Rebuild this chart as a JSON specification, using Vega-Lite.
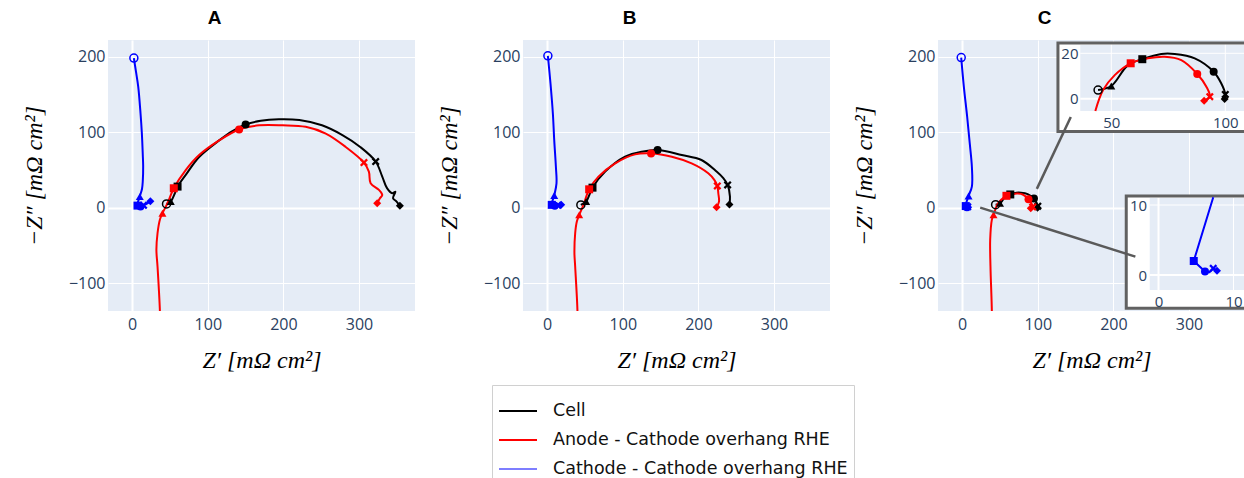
{
  "$schema": "https://vega.github.io/schema/vega-lite/v6.json",
  "padding": {"left": 22, "top": 9, "right": 0, "bottom": 0},
  "background": "white",
  "config": {
    "view": {"fill": "#e5ecf6", "stroke": null},
    "axis": {"domain": false, "ticks": false, "gridColor": "white", "labelFont": "Open Sans", "labelFontSize": 16, "labelColor": "#2a3f5f", "labelFlush": false, "labelOverlap": false, "titleFont": "Liberation Serif", "titleFontStyle": "italic", "titleFontWeight": "normal", "titleFontSize": 24, "titleColor": "#000000"},
    "title": {"font": "Liberation Sans", "fontSize": 19, "fontWeight": "bold", "color": "#000000", "anchor": "middle", "offset": 12},
    "legend": {"orient": "none", "legendX": 384, "legendY": 345, "direction": "vertical", "title": null, "labelFont": "DejaVu Sans", "labelFontSize": 17.5, "labelColor": "#111111", "labelLimit": 500, "symbolType": "stroke", "symbolStrokeWidth": 2, "symbolSize": 1444, "strokeColor": "#d0d0d0", "fillColor": "white", "padding": 6, "labelOffset": 15, "rowPadding": 0}
  },
  "datasets": {
    "main": [
      {"p":"A","s":"Cell","i":0,"x":45.4,"y":4.8,"m":"open"},
      {"p":"A","s":"Cell","i":1,"x":51,"y":8,"m":"tri"},
      {"p":"A","s":"Cell","i":2,"x":56,"y":18},
      {"p":"A","s":"Cell","i":3,"x":60,"y":27.8,"m":"sq"},
      {"p":"A","s":"Cell","i":4,"x":72,"y":45},
      {"p":"A","s":"Cell","i":5,"x":88.5,"y":67},
      {"p":"A","s":"Cell","i":6,"x":115,"y":89},
      {"p":"A","s":"Cell","i":7,"x":132,"y":101},
      {"p":"A","s":"Cell","i":8,"x":150,"y":110,"m":"circ"},
      {"p":"A","s":"Cell","i":9,"x":170,"y":115},
      {"p":"A","s":"Cell","i":10,"x":194,"y":117},
      {"p":"A","s":"Cell","i":11,"x":221,"y":116},
      {"p":"A","s":"Cell","i":12,"x":251,"y":109},
      {"p":"A","s":"Cell","i":13,"x":278,"y":96},
      {"p":"A","s":"Cell","i":14,"x":302,"y":80},
      {"p":"A","s":"Cell","i":15,"x":322,"y":61,"m":"x"},
      {"p":"A","s":"Cell","i":16,"x":330.7,"y":41},
      {"p":"A","s":"Cell","i":17,"x":337,"y":25.7},
      {"p":"A","s":"Cell","i":18,"x":343.9,"y":19},
      {"p":"A","s":"Cell","i":19,"x":348,"y":21},
      {"p":"A","s":"Cell","i":20,"x":345,"y":12.5},
      {"p":"A","s":"Cell","i":21,"x":349.7,"y":8},
      {"p":"A","s":"Cell","i":22,"x":354,"y":2.3,"m":"dia"},
      {"p":"A","s":"Anode - Cathode overhang RHE","i":0,"x":37,"y":-160},
      {"p":"A","s":"Anode - Cathode overhang RHE","i":1,"x":36.6,"y":-136},
      {"p":"A","s":"Anode - Cathode overhang RHE","i":2,"x":33.5,"y":-78},
      {"p":"A","s":"Anode - Cathode overhang RHE","i":3,"x":32,"y":-56},
      {"p":"A","s":"Anode - Cathode overhang RHE","i":4,"x":33.5,"y":-34},
      {"p":"A","s":"Anode - Cathode overhang RHE","i":5,"x":36.6,"y":-16},
      {"p":"A","s":"Anode - Cathode overhang RHE","i":6,"x":40,"y":-7.5,"m":"tri"},
      {"p":"A","s":"Anode - Cathode overhang RHE","i":7,"x":46.7,"y":5.7},
      {"p":"A","s":"Anode - Cathode overhang RHE","i":8,"x":55,"y":25.6,"m":"sq"},
      {"p":"A","s":"Anode - Cathode overhang RHE","i":9,"x":71,"y":50},
      {"p":"A","s":"Anode - Cathode overhang RHE","i":10,"x":88.5,"y":69.6},
      {"p":"A","s":"Anode - Cathode overhang RHE","i":11,"x":115,"y":89},
      {"p":"A","s":"Anode - Cathode overhang RHE","i":12,"x":141.4,"y":103.5,"m":"circ"},
      {"p":"A","s":"Anode - Cathode overhang RHE","i":13,"x":168,"y":109},
      {"p":"A","s":"Anode - Cathode overhang RHE","i":14,"x":199,"y":109},
      {"p":"A","s":"Anode - Cathode overhang RHE","i":15,"x":229.5,"y":107},
      {"p":"A","s":"Anode - Cathode overhang RHE","i":16,"x":256,"y":98},
      {"p":"A","s":"Anode - Cathode overhang RHE","i":17,"x":282,"y":80.6},
      {"p":"A","s":"Anode - Cathode overhang RHE","i":18,"x":306.5,"y":59.6,"m":"x"},
      {"p":"A","s":"Anode - Cathode overhang RHE","i":19,"x":313,"y":47.7},
      {"p":"A","s":"Anode - Cathode overhang RHE","i":20,"x":315.3,"y":32.3},
      {"p":"A","s":"Anode - Cathode overhang RHE","i":21,"x":326.3,"y":23.4},
      {"p":"A","s":"Anode - Cathode overhang RHE","i":22,"x":330.7,"y":16.8},
      {"p":"A","s":"Anode - Cathode overhang RHE","i":23,"x":327.6,"y":12.4},
      {"p":"A","s":"Anode - Cathode overhang RHE","i":24,"x":324,"y":5.8,"m":"dia"},
      {"p":"A","s":"Cathode - Cathode overhang RHE","i":0,"x":2.2,"y":198,"m":"open"},
      {"p":"A","s":"Cathode - Cathode overhang RHE","i":1,"x":5,"y":180},
      {"p":"A","s":"Cathode - Cathode overhang RHE","i":2,"x":8,"y":160},
      {"p":"A","s":"Cathode - Cathode overhang RHE","i":3,"x":11,"y":125},
      {"p":"A","s":"Cathode - Cathode overhang RHE","i":4,"x":12.8,"y":98},
      {"p":"A","s":"Cathode - Cathode overhang RHE","i":5,"x":14,"y":70},
      {"p":"A","s":"Cathode - Cathode overhang RHE","i":6,"x":14.5,"y":55},
      {"p":"A","s":"Cathode - Cathode overhang RHE","i":7,"x":14,"y":35},
      {"p":"A","s":"Cathode - Cathode overhang RHE","i":8,"x":13,"y":25},
      {"p":"A","s":"Cathode - Cathode overhang RHE","i":9,"x":10,"y":14.5,"m":"tri"},
      {"p":"A","s":"Cathode - Cathode overhang RHE","i":10,"x":7,"y":2.6,"m":"sq"},
      {"p":"A","s":"Cathode - Cathode overhang RHE","i":11,"x":11,"y":1.5,"m":"circ"},
      {"p":"A","s":"Cathode - Cathode overhang RHE","i":12,"x":15,"y":3,"m":"x"},
      {"p":"A","s":"Cathode - Cathode overhang RHE","i":13,"x":19,"y":5},
      {"p":"A","s":"Cathode - Cathode overhang RHE","i":14,"x":24,"y":8.5,"m":"dia"},
      {"p":"B","s":"Cell","i":0,"x":44.5,"y":3.5,"m":"open"},
      {"p":"B","s":"Cell","i":1,"x":51.5,"y":8,"m":"tri"},
      {"p":"B","s":"Cell","i":2,"x":55,"y":15},
      {"p":"B","s":"Cell","i":3,"x":59.9,"y":26.4,"m":"sq"},
      {"p":"B","s":"Cell","i":4,"x":76.7,"y":47.6},
      {"p":"B","s":"Cell","i":5,"x":103,"y":67.4},
      {"p":"B","s":"Cell","i":6,"x":125,"y":74},
      {"p":"B","s":"Cell","i":7,"x":146,"y":76.2,"m":"circ"},
      {"p":"B","s":"Cell","i":8,"x":178,"y":69.6},
      {"p":"B","s":"Cell","i":9,"x":204,"y":63},
      {"p":"B","s":"Cell","i":10,"x":224,"y":47.7},
      {"p":"B","s":"Cell","i":11,"x":232.9,"y":39},
      {"p":"B","s":"Cell","i":12,"x":238.6,"y":30,"m":"x"},
      {"p":"B","s":"Cell","i":13,"x":241.7,"y":14.6},
      {"p":"B","s":"Cell","i":14,"x":241,"y":4,"m":"dia"},
      {"p":"B","s":"Anode - Cathode overhang RHE","i":0,"x":40,"y":-160},
      {"p":"B","s":"Anode - Cathode overhang RHE","i":1,"x":40,"y":-136.6},
      {"p":"B","s":"Anode - Cathode overhang RHE","i":2,"x":37,"y":-78},
      {"p":"B","s":"Anode - Cathode overhang RHE","i":3,"x":36,"y":-60},
      {"p":"B","s":"Anode - Cathode overhang RHE","i":4,"x":37,"y":-34},
      {"p":"B","s":"Anode - Cathode overhang RHE","i":5,"x":39.2,"y":-18.5},
      {"p":"B","s":"Anode - Cathode overhang RHE","i":6,"x":42.3,"y":-9.7,"m":"tri"},
      {"p":"B","s":"Anode - Cathode overhang RHE","i":7,"x":48,"y":3.5},
      {"p":"B","s":"Anode - Cathode overhang RHE","i":8,"x":55.5,"y":24.2,"m":"sq"},
      {"p":"B","s":"Anode - Cathode overhang RHE","i":9,"x":67.8,"y":41},
      {"p":"B","s":"Anode - Cathode overhang RHE","i":10,"x":90,"y":58.6},
      {"p":"B","s":"Anode - Cathode overhang RHE","i":11,"x":116.3,"y":70.5},
      {"p":"B","s":"Anode - Cathode overhang RHE","i":12,"x":137.4,"y":71.8,"m":"circ"},
      {"p":"B","s":"Anode - Cathode overhang RHE","i":13,"x":164.8,"y":67.4},
      {"p":"B","s":"Anode - Cathode overhang RHE","i":14,"x":191,"y":58.6},
      {"p":"B","s":"Anode - Cathode overhang RHE","i":15,"x":213,"y":45.5},
      {"p":"B","s":"Anode - Cathode overhang RHE","i":16,"x":221,"y":36.7},
      {"p":"B","s":"Anode - Cathode overhang RHE","i":17,"x":225,"y":28.7,"m":"x"},
      {"p":"B","s":"Anode - Cathode overhang RHE","i":18,"x":226.3,"y":19},
      {"p":"B","s":"Anode - Cathode overhang RHE","i":19,"x":227.2,"y":8},
      {"p":"B","s":"Anode - Cathode overhang RHE","i":20,"x":224,"y":0.5,"m":"dia"},
      {"p":"B","s":"Cathode - Cathode overhang RHE","i":0,"x":0.9,"y":201,"m":"open"},
      {"p":"B","s":"Cathode - Cathode overhang RHE","i":1,"x":4.4,"y":164},
      {"p":"B","s":"Cathode - Cathode overhang RHE","i":2,"x":7.5,"y":124.7},
      {"p":"B","s":"Cathode - Cathode overhang RHE","i":3,"x":9.3,"y":89.4},
      {"p":"B","s":"Cathode - Cathode overhang RHE","i":4,"x":11.5,"y":54},
      {"p":"B","s":"Cathode - Cathode overhang RHE","i":5,"x":12.3,"y":32},
      {"p":"B","s":"Cathode - Cathode overhang RHE","i":6,"x":9.3,"y":16,"m":"tri"},
      {"p":"B","s":"Cathode - Cathode overhang RHE","i":7,"x":6,"y":3.6,"m":"sq"},
      {"p":"B","s":"Cathode - Cathode overhang RHE","i":8,"x":10,"y":2.5,"m":"circ"},
      {"p":"B","s":"Cathode - Cathode overhang RHE","i":9,"x":14,"y":3,"m":"x"},
      {"p":"B","s":"Cathode - Cathode overhang RHE","i":10,"x":18.5,"y":3.6,"m":"dia"},
      {"p":"C","s":"Cell","i":0,"x":44.2,"y":3.8,"m":"open"},
      {"p":"C","s":"Cell","i":1,"x":50,"y":5.6,"m":"tri"},
      {"p":"C","s":"Cell","i":2,"x":57.3,"y":14.8},
      {"p":"C","s":"Cell","i":3,"x":63.6,"y":17.4,"m":"sq"},
      {"p":"C","s":"Cell","i":4,"x":71.9,"y":19.7},
      {"p":"C","s":"Cell","i":5,"x":77.8,"y":19.7},
      {"p":"C","s":"Cell","i":6,"x":86.6,"y":17.8},
      {"p":"C","s":"Cell","i":7,"x":94.9,"y":11.9,"m":"circ"},
      {"p":"C","s":"Cell","i":8,"x":98.2,"y":6.8},
      {"p":"C","s":"Cell","i":9,"x":100,"y":1.9,"m":"x"},
      {"p":"C","s":"Cell","i":10,"x":99.7,"y":-0.1,"m":"dia"},
      {"p":"C","s":"Anode - Cathode overhang RHE","i":0,"x":39.2,"y":-160},
      {"p":"C","s":"Anode - Cathode overhang RHE","i":1,"x":39.2,"y":-136.6},
      {"p":"C","s":"Anode - Cathode overhang RHE","i":2,"x":37.4,"y":-78},
      {"p":"C","s":"Anode - Cathode overhang RHE","i":3,"x":37,"y":-43},
      {"p":"C","s":"Anode - Cathode overhang RHE","i":4,"x":39.2,"y":-16.3},
      {"p":"C","s":"Anode - Cathode overhang RHE","i":5,"x":41.4,"y":-9.7,"m":"tri"},
      {"p":"C","s":"Anode - Cathode overhang RHE","i":6,"x":46.4,"y":3.8},
      {"p":"C","s":"Anode - Cathode overhang RHE","i":7,"x":51.5,"y":10.4},
      {"p":"C","s":"Anode - Cathode overhang RHE","i":8,"x":58.5,"y":15.6,"m":"sq"},
      {"p":"C","s":"Anode - Cathode overhang RHE","i":9,"x":66.1,"y":17.8},
      {"p":"C","s":"Anode - Cathode overhang RHE","i":10,"x":73.4,"y":18.5},
      {"p":"C","s":"Anode - Cathode overhang RHE","i":11,"x":80.7,"y":17},
      {"p":"C","s":"Anode - Cathode overhang RHE","i":12,"x":87.7,"y":10.9,"m":"circ"},
      {"p":"C","s":"Anode - Cathode overhang RHE","i":13,"x":91.7,"y":5.3},
      {"p":"C","s":"Anode - Cathode overhang RHE","i":14,"x":93.2,"y":0.9,"m":"x"},
      {"p":"C","s":"Anode - Cathode overhang RHE","i":15,"x":90.7,"y":-0.9,"m":"dia"},
      {"p":"C","s":"Cathode - Cathode overhang RHE","i":0,"x":-1.3,"y":198.7,"m":"open"},
      {"p":"C","s":"Cathode - Cathode overhang RHE","i":1,"x":2.2,"y":160},
      {"p":"C","s":"Cathode - Cathode overhang RHE","i":2,"x":6.6,"y":120},
      {"p":"C","s":"Cathode - Cathode overhang RHE","i":3,"x":10,"y":85},
      {"p":"C","s":"Cathode - Cathode overhang RHE","i":4,"x":12.8,"y":54},
      {"p":"C","s":"Cathode - Cathode overhang RHE","i":5,"x":12.8,"y":27.8},
      {"p":"C","s":"Cathode - Cathode overhang RHE","i":6,"x":8.4,"y":15.4,"m":"tri"},
      {"p":"C","s":"Cathode - Cathode overhang RHE","i":7,"x":4.7,"y":2.0,"m":"sq"},
      {"p":"C","s":"Cathode - Cathode overhang RHE","i":8,"x":6.2,"y":0.5,"m":"circ"},
      {"p":"C","s":"Cathode - Cathode overhang RHE","i":9,"x":6.8,"y":0.4},
      {"p":"C","s":"Cathode - Cathode overhang RHE","i":10,"x":7.3,"y":0.95,"m":"x"},
      {"p":"C","s":"Cathode - Cathode overhang RHE","i":11,"x":7.8,"y":0.6,"m":"dia"}
    ],
    "up": [
      {"s":"Cell","i":0,"x":44.2,"y":3.8,"m":"open"},
      {"s":"Cell","i":1,"x":50,"y":5.6,"m":"tri"},
      {"s":"Cell","i":2,"x":57.3,"y":14.8},
      {"s":"Cell","i":3,"x":63.6,"y":17.4,"m":"sq"},
      {"s":"Cell","i":4,"x":71.9,"y":19.7},
      {"s":"Cell","i":5,"x":77.8,"y":19.7},
      {"s":"Cell","i":6,"x":86.6,"y":17.8},
      {"s":"Cell","i":7,"x":94.9,"y":11.9,"m":"circ"},
      {"s":"Cell","i":8,"x":98.2,"y":6.8},
      {"s":"Cell","i":9,"x":100,"y":1.9,"m":"x"},
      {"s":"Cell","i":10,"x":99.7,"y":-0.1,"m":"dia"},
      {"s":"Anode - Cathode overhang RHE","i":0,"x":43,"y":-5.4},
      {"s":"Anode - Cathode overhang RHE","i":1,"x":46.4,"y":3.8},
      {"s":"Anode - Cathode overhang RHE","i":2,"x":51.5,"y":10.4},
      {"s":"Anode - Cathode overhang RHE","i":3,"x":58.5,"y":15.6,"m":"sq"},
      {"s":"Anode - Cathode overhang RHE","i":4,"x":66.1,"y":17.8},
      {"s":"Anode - Cathode overhang RHE","i":5,"x":73.4,"y":18.5},
      {"s":"Anode - Cathode overhang RHE","i":6,"x":80.7,"y":17},
      {"s":"Anode - Cathode overhang RHE","i":7,"x":87.7,"y":10.9,"m":"circ"},
      {"s":"Anode - Cathode overhang RHE","i":8,"x":91.7,"y":5.3},
      {"s":"Anode - Cathode overhang RHE","i":9,"x":93.2,"y":0.9,"m":"x"},
      {"s":"Anode - Cathode overhang RHE","i":10,"x":90.7,"y":-0.9,"m":"dia"}
    ],
    "low": [
      {"s":"Cathode - Cathode overhang RHE","i":0,"x":7.3,"y":11.1},
      {"s":"Cathode - Cathode overhang RHE","i":1,"x":4.7,"y":2.0,"m":"sq"},
      {"s":"Cathode - Cathode overhang RHE","i":2,"x":6.2,"y":0.5,"m":"circ"},
      {"s":"Cathode - Cathode overhang RHE","i":3,"x":6.8,"y":0.4},
      {"s":"Cathode - Cathode overhang RHE","i":4,"x":7.3,"y":0.95,"m":"x"},
      {"s":"Cathode - Cathode overhang RHE","i":5,"x":7.8,"y":0.6,"m":"dia"}
    ]
  },
  "resolve": {"scale": {"x": "independent", "y": "independent", "color": "shared", "shape": "shared"}},
  "spacing": 22,
  "hconcat": [
    {
      "width": 307, "height": 271,
      "title": {"text": "A", "dx": -47},
      "data": {"name": "main"},
      "transform": [{"filter": "datum.p === 'A'"}],
      "encoding": {
        "x": {"field": "x", "type": "quantitative", "scale": {"domain": [-32, 374], "nice": false, "zero": false}, "axis": {"values": [0, 100, 200, 300], "title": "Z′  [mΩ cm²]", "labelPadding": 5, "titlePadding": 16, "gridWidth": {"condition": {"test": "datum.value === 0", "value": 2}, "value": 1}}},
        "y": {"field": "y", "type": "quantitative", "scale": {"domain": [-137, 222], "nice": false, "zero": false}, "axis": {"values": [-100, 0, 100, 200], "title": "−Z″ [mΩ cm²]", "labelPadding": 3, "titlePadding": 22, "gridWidth": {"condition": {"test": "datum.value === 0", "value": 2}, "value": 1}}}
      },
      "layer": [
        {"mark": {"type": "line", "strokeWidth": 2, "interpolate": "catmull-rom", "clip": true},
         "encoding": {"order": {"field": "i", "type": "quantitative"}, "color": {"field": "s", "type": "nominal", "scale": {"domain": ["Cell", "Anode - Cathode overhang RHE", "Cathode - Cathode overhang RHE"], "range": ["#000000", "#ff0000", "#0000ff"]}, "legend": {"symbolType": "stroke", "encode": {"symbols": {"update": {"opacity": {"signal": "datum.value === 'Cathode - Cathode overhang RHE' ? 0.5 : 1"}}}}}}}},
        {"transform": [{"filter": "datum.m === 'open'"}], "mark": {"type": "point", "filled": false, "size": 64, "strokeWidth": 1.5, "opacity": 1, "clip": true},
         "encoding": {"color": {"field": "s", "type": "nominal", "legend": null}}},
        {"transform": [{"filter": "datum.m && datum.m !== 'open'"}], "mark": {"type": "point", "filled": true, "size": 64, "opacity": 1, "clip": true},
         "encoding": {"color": {"field": "s", "type": "nominal", "legend": null}, "shape": {"field": "m", "type": "nominal", "scale": {"domain": ["tri", "sq", "circ", "x", "dia"], "range": ["triangle-up", "square", "circle", "M-1,-0.6L-0.4,0L-1,0.6L-0.6,1L0,0.4L0.6,1L1,0.6L0.4,0L1,-0.6L0.6,-1L0,-0.4L-0.6,-1Z", "diamond"]}, "legend": null}}}
      ]
    },
    {
      "width": 307, "height": 271,
      "title": {"text": "B", "dx": -47},
      "data": {"name": "main"},
      "transform": [{"filter": "datum.p === 'B'"}],
      "encoding": {
        "x": {"field": "x", "type": "quantitative", "scale": {"domain": [-32, 374], "nice": false, "zero": false}, "axis": {"values": [0, 100, 200, 300], "title": "Z′  [mΩ cm²]", "labelPadding": 5, "titlePadding": 16, "gridWidth": {"condition": {"test": "datum.value === 0", "value": 2}, "value": 1}}},
        "y": {"field": "y", "type": "quantitative", "scale": {"domain": [-137, 222], "nice": false, "zero": false}, "axis": {"values": [-100, 0, 100, 200], "title": "−Z″ [mΩ cm²]", "labelPadding": 3, "titlePadding": 22, "gridWidth": {"condition": {"test": "datum.value === 0", "value": 2}, "value": 1}}}
      },
      "layer": [
        {"mark": {"type": "line", "strokeWidth": 2, "interpolate": "catmull-rom", "clip": true},
         "encoding": {"order": {"field": "i", "type": "quantitative"}, "color": {"field": "s", "type": "nominal", "legend": {"symbolType": "stroke", "encode": {"symbols": {"update": {"opacity": {"signal": "datum.value === 'Cathode - Cathode overhang RHE' ? 0.5 : 1"}}}}}}}},
        {"transform": [{"filter": "datum.m === 'open'"}], "mark": {"type": "point", "filled": false, "size": 64, "strokeWidth": 1.5, "opacity": 1, "clip": true},
         "encoding": {"color": {"field": "s", "type": "nominal", "legend": null}}},
        {"transform": [{"filter": "datum.m && datum.m !== 'open'"}], "mark": {"type": "point", "filled": true, "size": 64, "opacity": 1, "clip": true},
         "encoding": {"color": {"field": "s", "type": "nominal", "legend": null}, "shape": {"field": "m", "type": "nominal", "legend": null}}}
      ]
    },
    {
      "width": 307, "height": 271,
      "title": {"text": "C", "dx": -47},
      "resolve": {"scale": {"x": "independent", "y": "independent"}},
      "layer": [
        {
          "data": {"name": "main"},
          "transform": [{"filter": "datum.p === 'C'"}],
          "encoding": {
            "x": {"field": "x", "type": "quantitative", "scale": {"domain": [-32, 374], "nice": false, "zero": false}, "axis": {"values": [0, 100, 200, 300], "title": "Z′  [mΩ cm²]", "labelPadding": 5, "titlePadding": 16, "gridWidth": {"condition": {"test": "datum.value === 0", "value": 2}, "value": 1}}},
            "y": {"field": "y", "type": "quantitative", "scale": {"domain": [-137, 222], "nice": false, "zero": false}, "axis": {"values": [-100, 0, 100, 200], "title": "−Z″ [mΩ cm²]", "labelPadding": 3, "titlePadding": 22, "gridWidth": {"condition": {"test": "datum.value === 0", "value": 2}, "value": 1}}}
          },
          "layer": [
            {"mark": {"type": "line", "strokeWidth": 2, "interpolate": "catmull-rom", "clip": true},
             "encoding": {"order": {"field": "i", "type": "quantitative"}, "color": {"field": "s", "type": "nominal", "legend": {"symbolType": "stroke", "encode": {"symbols": {"update": {"opacity": {"signal": "datum.value === 'Cathode - Cathode overhang RHE' ? 0.5 : 1"}}}}}}}},
            {"transform": [{"filter": "datum.m === 'open'"}], "mark": {"type": "point", "filled": false, "size": 64, "strokeWidth": 1.5, "opacity": 1, "clip": true},
             "encoding": {"color": {"field": "s", "type": "nominal", "legend": null}}},
            {"transform": [{"filter": "datum.m && datum.m !== 'open'"}], "mark": {"type": "point", "filled": true, "size": 64, "opacity": 1, "clip": true},
             "encoding": {"color": {"field": "s", "type": "nominal", "legend": null}, "shape": {"field": "m", "type": "nominal", "legend": null}}}
          ]
        },
        {
          "data": {"values": [{}]},
          "layer": [
            {"mark": {"type": "rect", "fill": "white", "stroke": "#616161", "strokeWidth": 3},
             "encoding": {"x": {"datum": 26.6, "type": "quantitative", "scale": {"domain": [20, 130], "range": [104.9, 355.7], "nice": false, "zero": false}, "axis": null}, "x2": {"datum": 115}, "y": {"datum": -14.4, "type": "quantitative", "scale": {"domain": [-20, 30], "range": [104.1, -9.4], "nice": false, "zero": false}, "axis": null}, "y2": {"datum": 24.5}}},
            {"mark": {"type": "rect", "fill": "#e5ecf6"},
             "encoding": {"x": {"datum": 36.4, "type": "quantitative", "axis": null}, "x2": {"datum": 113}, "y": {"datum": -5.4, "type": "quantitative", "axis": null}, "y2": {"datum": 23.7}}},
            {"mark": {"type": "rule", "color": "white", "strokeWidth": 1},
             "encoding": {"x": {"datum": 50, "type": "quantitative", "axis": null}, "y": {"datum": -5.4, "type": "quantitative", "axis": null}, "y2": {"datum": 23.7}}},
            {"mark": {"type": "rule", "color": "white", "strokeWidth": 1},
             "encoding": {"x": {"datum": 100, "type": "quantitative", "axis": null}, "y": {"datum": -5.4, "type": "quantitative", "axis": null}, "y2": {"datum": 23.7}}},
            {"mark": {"type": "rule", "color": "white", "strokeWidth": 2},
             "encoding": {"y": {"datum": 0, "type": "quantitative", "axis": null}, "x": {"datum": 36.4, "type": "quantitative", "axis": null}, "x2": {"datum": 113}}},
            {"mark": {"type": "rule", "color": "white", "strokeWidth": 1},
             "encoding": {"y": {"datum": 20, "type": "quantitative", "axis": null}, "x": {"datum": 36.4, "type": "quantitative", "axis": null}, "x2": {"datum": 113}}}
          ]
        },
        {
          "data": {"name": "up"},
          "encoding": {
            "x": {"field": "x", "type": "quantitative", "scale": {"domain": [20, 130], "range": [104.9, 355.7], "nice": false, "zero": false}, "axis": {"orient": "bottom", "offset": -200, "values": [50, 100], "grid": false, "labelPadding": 4, "labelFontSize": 15, "title": null, "zindex": 2}},
            "y": {"field": "y", "type": "quantitative", "scale": {"domain": [-20, 30], "range": [104.1, -9.4], "nice": false, "zero": false}, "axis": {"orient": "left", "offset": -142, "values": [0, 20], "grid": false, "labelPadding": 2, "labelFontSize": 15, "title": null, "zindex": 2}}
          },
          "layer": [
            {"mark": {"type": "line", "strokeWidth": 2, "interpolate": "catmull-rom"},
             "encoding": {"order": {"field": "i", "type": "quantitative"}, "color": {"field": "s", "type": "nominal", "legend": null}}},
            {"transform": [{"filter": "datum.m === 'open'"}], "mark": {"type": "point", "filled": false, "size": 64, "strokeWidth": 1.5, "opacity": 1},
             "encoding": {"color": {"field": "s", "type": "nominal", "legend": null}}},
            {"transform": [{"filter": "datum.m && datum.m !== 'open'"}], "mark": {"type": "point", "filled": true, "size": 64, "opacity": 1},
             "encoding": {"color": {"field": "s", "type": "nominal", "legend": null}, "shape": {"field": "m", "type": "nominal", "legend": null}}}
          ]
        },
        {
          "data": {"values": [{}]},
          "layer": [
            {"mark": {"type": "rect", "fill": "white", "stroke": "#616161", "strokeWidth": 3},
             "encoding": {"x": {"datum": -4.3, "type": "quantitative", "scale": {"domain": [-10, 25], "range": [145.5, 408], "nice": false, "zero": false}, "axis": null}, "x2": {"datum": 13}, "y": {"datum": -4.76, "type": "quantitative", "scale": {"domain": [-10, 20], "range": [305, 95], "nice": false, "zero": false}, "axis": null}, "y2": {"datum": 11.3}}},
            {"mark": {"type": "rect", "fill": "#e5ecf6"},
             "encoding": {"x": {"datum": -1.17, "type": "quantitative", "axis": null}, "x2": {"datum": 12.7}, "y": {"datum": -2.14, "type": "quantitative", "axis": null}, "y2": {"datum": 11.0}}},
            {"mark": {"type": "rule", "color": "white", "strokeWidth": 2},
             "encoding": {"x": {"datum": 0, "type": "quantitative", "axis": null}, "y": {"datum": -2.14, "type": "quantitative", "axis": null}, "y2": {"datum": 11.0}}},
            {"mark": {"type": "rule", "color": "white", "strokeWidth": 1},
             "encoding": {"x": {"datum": 10, "type": "quantitative", "axis": null}, "y": {"datum": -2.14, "type": "quantitative", "axis": null}, "y2": {"datum": 11.0}}},
            {"mark": {"type": "rule", "color": "white", "strokeWidth": 2},
             "encoding": {"y": {"datum": 0, "type": "quantitative", "axis": null}, "x": {"datum": -1.17, "type": "quantitative", "axis": null}, "x2": {"datum": 12.7}}},
            {"mark": {"type": "rule", "color": "white", "strokeWidth": 1},
             "encoding": {"y": {"datum": 10, "type": "quantitative", "axis": null}, "x": {"datum": -1.17, "type": "quantitative", "axis": null}, "x2": {"datum": 12.7}}}
          ]
        },
        {
          "data": {"name": "low"},
          "encoding": {
            "x": {"field": "x", "type": "quantitative", "scale": {"domain": [-10, 25], "range": [145.5, 408], "nice": false, "zero": false}, "axis": {"orient": "bottom", "offset": -21, "values": [0, 10], "grid": false, "labelPadding": 4, "labelFontSize": 15, "title": null, "zindex": 2}},
            "y": {"field": "y", "type": "quantitative", "scale": {"domain": [-10, 20], "range": [305, 95], "nice": false, "zero": false}, "axis": {"orient": "left", "offset": -211.7, "values": [0, 10], "grid": false, "labelPadding": 3, "labelFontSize": 15, "title": null, "zindex": 2}}
          },
          "layer": [
            {"mark": {"type": "line", "strokeWidth": 2, "interpolate": "linear"},
             "encoding": {"order": {"field": "i", "type": "quantitative"}, "color": {"field": "s", "type": "nominal", "legend": null}}},
            {"transform": [{"filter": "datum.m && datum.m !== 'open'"}], "mark": {"type": "point", "filled": true, "size": 64, "opacity": 1},
             "encoding": {"color": {"field": "s", "type": "nominal", "legend": null}, "shape": {"field": "m", "type": "nominal", "legend": null}}}
          ]
        },
        {
          "data": {"values": [{}]},
          "layer": [
            {"mark": {"type": "rule", "color": "#5a5a5a", "strokeWidth": 2.5},
             "encoding": {"x": {"datum": 98.7, "type": "quantitative", "scale": {"domain": [-32, 374], "nice": false, "zero": false}, "axis": null}, "y": {"datum": 24.8, "type": "quantitative", "scale": {"domain": [-137, 222], "nice": false, "zero": false}, "axis": null}, "x2": {"datum": 143.6}, "y2": {"datum": 120.1}}},
            {"mark": {"type": "rule", "color": "#5a5a5a", "strokeWidth": 2.5},
             "encoding": {"x": {"datum": 23.8, "type": "quantitative", "axis": null}, "y": {"datum": 0, "type": "quantitative", "axis": null}, "x2": {"datum": 229}, "y2": {"datum": -64.9}}}
          ]
        }
      ]
    }
  ]
}
